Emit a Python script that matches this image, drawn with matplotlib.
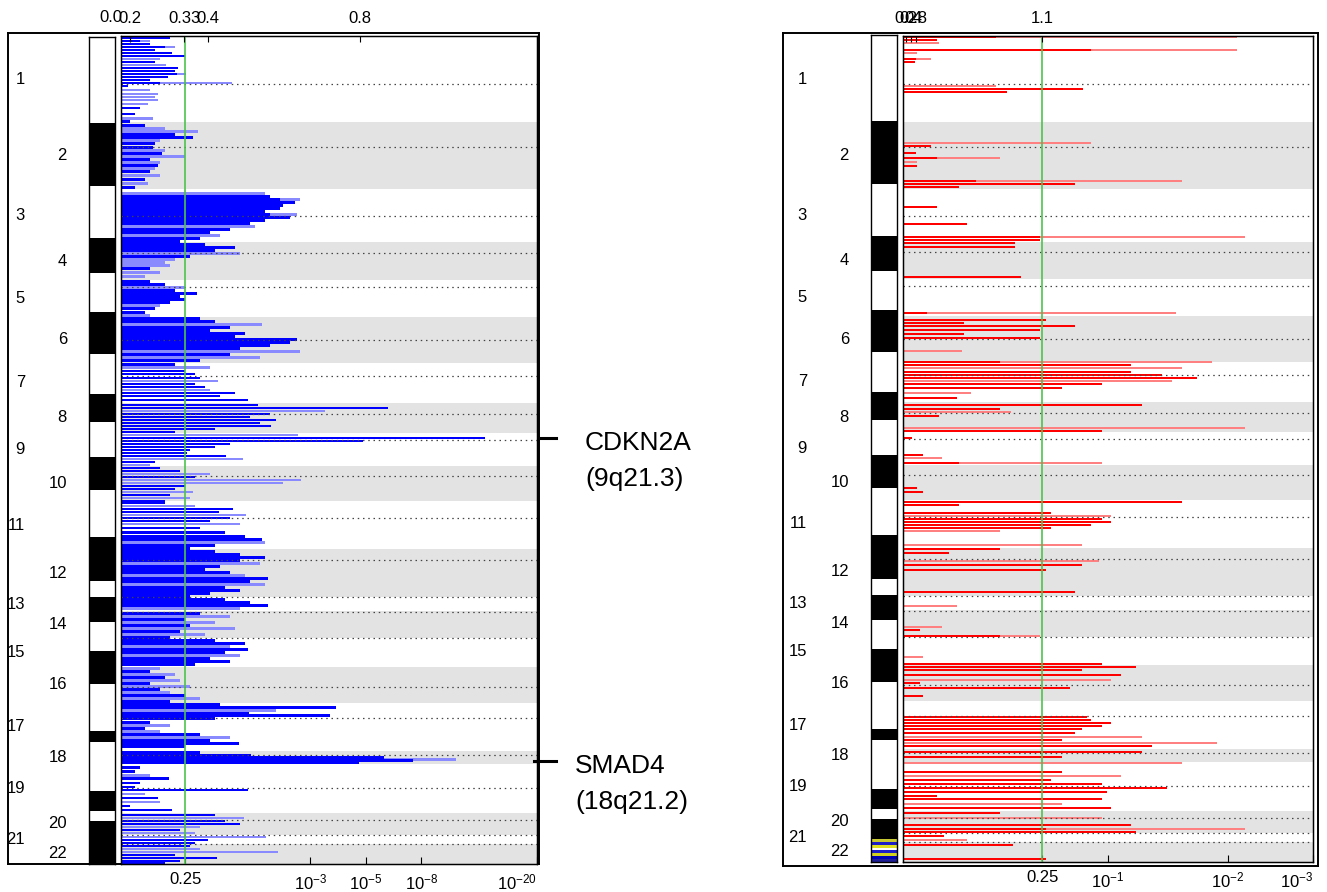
import numpy as np
import matplotlib
matplotlib.use('Agg')
import matplotlib.pyplot as plt
from matplotlib.transforms import blended_transform_factory
from matplotlib.ticker import NullLocator

plt.rcParams['font.family'] = ['Liberation Sans', 'DejaVu Sans']
plt.rcParams['mathtext.fontset'] = 'custom'
plt.rcParams['mathtext.rm'] = 'Liberation Sans'
plt.rcParams['mathtext.it'] = 'Liberation Sans:italic'
plt.rcParams['mathtext.bf'] = 'Liberation Sans:bold'

# genome axis, in marker index units (top = chr1)
chrom_names = [str(i) for i in range(1, 23)]
chrom_sizes = [86, 67, 53, 37, 37, 46, 40, 30, 33, 35, 48, 48, 14, 27, 28, 36, 48, 13, 49, 22, 9, 20]
centromere_pos = [48, 111, 180, 216, 250, 303, 339, 377, 403, 439, 481, 523, 560, 575, 601,
                  649, 680, 717, 750, 782, 797, 806]
ideogram_sizes = [86, 63, 52, 35, 39, 42, 40, 28, 34, 33, 47, 44, 16, 25, 29, 33, 47, 11, 49, 20, 10, 20]
ideogram_extra = 23

q_thresh = 0.25

# deletions: -log10(q) per segment
del_dark_pos = [2, 5, 8, 11, 14, 17, 20, 26, 32, 35, 38, 41, 44, 47, 50, 72, 78, 85,
                89, 98, 101, 107, 111, 117, 123, 129, 135, 143, 151,
                160, 163, 166, 169, 172, 175, 178, 181, 184, 187, 193, 196, 202, 205,
                208, 211, 214, 220, 232,
                245, 248, 254, 257, 260, 263, 266, 272, 276,
                282, 285, 291, 294, 297, 300, 303, 306, 309, 312, 318, 324,
                328, 334, 337, 341, 347, 350, 356, 359, 363,
                368, 371, 377, 380, 383, 386, 389, 392, 395,
                401, 404, 407, 410, 413, 416, 419, 425,
                431, 434, 440, 449, 452, 458, 464,
                466, 472, 475, 481, 484, 491, 495, 499, 502, 508, 511,
                514, 517, 520, 523, 529, 532, 535, 541, 544, 550, 553, 556, 559,
                562, 565, 568,
                576, 582, 588, 594, 600,
                603, 606, 612, 615, 621, 624, 627,
                634, 640, 646, 652, 658, 664,
                667, 670, 676, 678, 681, 685, 691, 697, 703, 706, 709,
                715, 718, 720, 723, 725,
                730, 734, 741, 745, 749, 752, 760, 768, 772,
                777, 783, 786, 792,
                802, 805,
                808, 817, 820, 823, 825]
del_dark_score = [0.43, 0.15, 0.24, 0.38, 0.28, 0.45, 0.60, 0.28, 0.52, 0.49, 0.51, 0.41, 0.24, 0.33, 0.05, 0.15, 0.11, 0.07,
                  0.19, 0.49, 0.69, 0.28, 0.26, 0.35, 0.24, 0.31, 0.24, 0.19, 0.11,
                  1.98, 2.20, 2.58, 2.27, 2.20, 1.87, 1.98, 2.45, 1.87, 1.57, 1.22, 0.92, 0.78, 0.54,
                  0.85, 1.30, 0.99, 0.66, 0.24,
                  0.24, 0.38, 0.49, 0.74, 0.54, 0.60, 0.43, 0.28, 0.19,
                  0.78, 0.99, 1.22, 0.92, 1.48, 1.30, 2.63, 2.45, 1.98, 1.39, 1.22, 0.78,
                  0.49, 0.60, 0.72, 0.78, 0.72, 0.85, 1.30, 1.06, 1.53,
                  1.73, 6.06, 1.98, 1.57, 2.11, 1.77, 2.00, 0.99, 0.49,
                  13.4, 4.88, 1.22, 0.99, 0.66, 0.62, 1.16, 0.28,
                  0.33, 0.54, 0.72, 0.60, 0.49, 0.43, 0.38,
                  0.38, 1.27, 1.05, 1.22, 0.92, 0.78, 1.14, 1.48, 1.81, 0.99, 0.66,
                  0.99, 1.39, 1.87, 1.39, 1.06, 0.85, 1.22, 1.93, 1.57, 1.14, 1.39, 0.92, 0.66,
                  1.14, 1.57, 1.93,
                  0.78, 0.60, 0.66, 0.54, 0.43,
                  0.99, 1.48, 1.53, 1.14, 0.92, 1.22, 0.72,
                  0.24, 0.38, 0.24, 0.33, 0.60, 0.43,
                  1.06, 3.83, 1.55, 3.62, 0.99, 0.24, 0.19, 0.78, 0.92, 1.37, 0.60,
                  0.78, 1.59, 5.86, 7.48, 4.71,
                  0.15, 0.11, 0.42, 0.15, 0.11, 1.53, 0.31, 0.07, 0.45,
                  0.99, 1.14, 1.39, 0.54,
                  0.89, 0.72,
                  0.66, 0.49, 1.02, 0.54, 0.38]
del_light_pos = [5, 11, 23, 29, 38, 47, 54, 58, 61, 64, 68, 82,
                 92, 95, 104, 114, 120, 126, 132, 139, 147,
                 157, 163, 178, 190, 199,
                 217, 223, 226, 229, 236, 240,
                 251, 269, 279,
                 288, 315, 321,
                 331, 344, 353,
                 374,
                 398, 422, 428,
                 437, 443, 446, 455, 461,
                 469, 478, 487, 505,
                 526, 538, 547,
                 571,
                 579, 585, 591, 597,
                 609, 618,
                 631, 637, 643, 649, 655, 661,
                 673, 688, 694, 700,
                 722,
                 738, 756, 764,
                 780, 789, 795,
                 799,
                 811, 814]
del_light_score = [0.24, 0.49, 0.33, 0.39, 0.61, 1.25, 0.24, 0.31, 0.28, 0.31, 0.22, 0.26,
                   0.38, 0.76, 0.33, 0.38, 0.60, 0.33, 0.28, 0.33, 0.22,
                   1.87, 2.71, 2.63, 1.67, 1.06,
                   1.39, 0.49, 0.38, 0.43, 0.33, 0.19,
                   0.60, 0.33, 0.24,
                   1.81, 2.71, 1.77,
                   0.92, 1.03, 0.92,
                   3.45,
                   2.65, 1.44, 0.24,
                   0.92, 2.74, 2.27, 0.69, 0.66,
                   0.72, 1.50, 1.39, 1.87,
                   1.77, 1.48, 1.87,
                   1.39,
                   1.22, 0.99, 1.30, 0.85,
                   1.22, 1.39,
                   0.33, 0.49, 0.54, 0.66, 0.43, 0.78,
                   2.11, 0.43, 0.33, 1.22,
                   10.6,
                   0.24, 0.19, 0.33,
                   1.46, 0.78, 0.72,
                   1.89,
                   0.78, 2.16]

# amplifications: -log10(q) per segment
amp_dark_pos = [1, 4, 14, 23, 26, 53, 56,
                110, 117, 122, 130, 145, 148, 151,
                171, 188, 201, 204, 207,
                211, 241,
                277,
                284, 287, 290, 294, 298, 302, 326,
                329, 336, 339, 342, 348, 352, 362,
                369, 373, 380, 395, 402,
                419, 427,
                452, 456, 466, 469,
                477, 483, 486, 489, 492,
                513, 517, 529, 534, 556,
                594, 600,
                628, 631, 634,
                639, 647, 652, 660,
                681, 684, 687, 690, 693, 697, 704, 710,
                716, 721,
                736, 744, 748, 752, 756, 760, 763, 772,
                777, 789, 793, 796,
                800,
                809, 823]
amp_dark_score = [0.37, 0.12, 0.89, 0.045, 0.04, 0.84, 0.42,
                  0.10, 0.045, 0.12, 0.05, 0.28, 0.79, 0.21,
                  0.12, 0.24, 0.59, 0.59, 0.46,
                  0.46, 0.49,
                  0.085,
                  0.62, 0.23, 0.79, 0.59, 0.23, 0.59, 0.39,
                  1.16, 1.16, 1.40, 1.70, 0.96, 0.71, 0.20,
                  1.24, 0.39, 0.13, 0.96, 0.03,
                  0.07, 0.21,
                  0.05, 0.07, 1.57, 0.21,
                  0.65, 0.96, 1.02, 0.89, 0.65,
                  0.39, 0.17, 0.83, 0.62, 0.79,
                  0.06, 0.39,
                  0.96, 1.20, 0.83,
                  1.09, 0.06, 0.76, 0.07,
                  0.86, 0.89, 1.02, 0.96, 0.83, 0.79, 0.71, 1.32,
                  1.24, 0.71,
                  0.71, 0.65, 0.96, 1.44, 0.99, 0.12, 0.96, 1.02,
                  0.39, 1.16, 0.62, 1.20,
                  0.15,
                  0.45, 0.62]
amp_light_pos = [1, 7, 14, 17, 23, 50,
                 107, 122, 126, 145,
                 201,
                 277,
                 315, 326,
                 332, 345, 357,
                 376, 392,
                 422, 427,
                 480, 495,
                 509, 525,
                 570,
                 591, 600,
                 621,
                 644,
                 701, 707,
                 727,
                 740, 768,
                 782, 793,
                 804]
amp_light_score = [2.09, 0.13, 2.09, 0.05, 0.10, 0.37,
                   0.89, 0.39, 0.05, 1.57,
                   2.18,
                   1.52,
                   0.22, 1.84,
                   1.57, 1.48, 0.26,
                   0.44, 2.18,
                   0.14, 0.96,
                   1.02, 0.39,
                   0.83, 0.94,
                   0.20,
                   0.14, 0.59,
                   0.07,
                   1.02,
                   1.24, 1.89,
                   1.57,
                   1.09, 0.71,
                   0.96, 2.18,
                   0.24]

# axis ticks (q-values at the bottom, G-scores on top)
del_q_ticks = [0.25, 1e-3, 1e-5, 1e-8, 1e-20]
del_q_labels = ['0.25', '$10^{-3}$', '$10^{-5}$', '$10^{-8}$', '$10^{-20}$']
amp_q_ticks = [0.25, 1e-1, 1e-2, 1e-3]
amp_q_labels = ['0.25', '$10^{-1}$', '$10^{-2}$', '$10^{-3}$']
del_g_pos = [0.068, 0.586, 0.891, 4.74]
del_g_labels = ['0.2', '0.33', '0.4', '0.8']
amp_g_pos = [0.010, 0.028, 0.045, 0.602]
amp_g_labels = ['0.2', '0.4', '0.8', '1.1']

genes = ['CDKN2A', 'SMAD4']
gene_bands = ['(9q21.3)', '(18q21.2)']
gene_pos = [401, 723]

W, H = 1327, 892
fig = plt.figure(figsize=(W / 100, H / 100), dpi=100)


def rect(l, t, r, b):
    return [l / W, 1 - b / H, (r - l) / W, (b - t) / H]


total = sum(chrom_sizes)
starts = np.concatenate([[0], np.cumsum(chrom_sizes)[:-1]])
mids = starts + np.array(chrom_sizes) / 2.0


def panel(outer, ideo, main, dpos, dscore, lpos, lscore, dcol, lcol, xmax,
          qticks, qlabels, gpos, glabels, label_x, stripes=None):
    ax_out = fig.add_axes(rect(*outer))
    ax_out.set_xticks([])
    ax_out.set_yticks([])
    for s in ax_out.spines.values():
        s.set_linewidth(1.4)

    ax_id = fig.add_axes(rect(*ideo))
    y0 = 0
    for i, h in enumerate(ideogram_sizes):
        ax_id.barh(y0, 1, height=h, align='edge', color='white' if i % 2 == 0 else 'black', lw=0)
        y0 += h
    if stripes is None:
        ax_id.barh(y0, 1, height=ideogram_extra, align='edge', color='black', lw=0)
    else:
        sh = ideogram_extra / len(stripes)
        for j, c in enumerate(stripes):
            ax_id.barh(y0 + j * sh, 1, height=sh, align='edge', color=c, lw=0)
    ax_id.set_xlim(0, 1)
    ax_id.set_ylim(total, 0)
    ax_id.set_xticks([])
    ax_id.set_yticks([])
    for s in ax_id.spines.values():
        s.set_linewidth(1.0)

    ax = fig.add_axes(rect(*main))
    ax.set_xscale('function', functions=(np.log1p, np.expm1))
    ax.set_xlim(0, xmax)
    ax.set_ylim(total, 0)
    for i in range(1, len(chrom_sizes), 2):
        ax.axhspan(starts[i], starts[i] + chrom_sizes[i], color='#e3e3e3', lw=0, zorder=0)
    ax.barh(lpos, lscore, height=2.6, color=lcol, lw=0, zorder=1)
    ax.barh(dpos, dscore, height=2.6, color=dcol, lw=0, zorder=2)
    ax.hlines(centromere_pos, 0, xmax, colors='#444444', linestyles=(0, (1.2, 3.0)),
              lw=0.9, zorder=3)
    ax.axvline(-np.log10(q_thresh), color='#4cc34c', lw=1.2, zorder=4)

    ax.set_xticks(-np.log10(qticks), qlabels)
    ax.xaxis.set_minor_locator(NullLocator())
    ax.tick_params(axis='x', direction='in', length=5, pad=6, labelsize=12)
    ax.set_yticks([])
    for s in ax.spines.values():
        s.set_linewidth(1.0)

    top = ax.twiny()
    top.set_xscale('function', functions=(np.log1p, np.expm1))
    top.set_xlim(0, xmax)
    top.set_xticks(gpos, glabels)
    top.xaxis.set_minor_locator(NullLocator())
    top.tick_params(axis='x', direction='in', length=4, pad=7, labelsize=12)

    tr = blended_transform_factory(fig.transFigure, ax.transData)
    for i, name in enumerate(chrom_names):
        x = label_x[0] if i % 2 == 0 else label_x[1]
        ax.text(x / W, mids[i], name, transform=tr, ha='right', va='center', fontsize=12)
    return ax, tr


ax_del, tr_del = panel((8, 33, 539, 864), (89, 37, 115, 864), (121, 36, 537, 864),
                       del_dark_pos, del_dark_score, del_light_pos, del_light_score,
                       '#0000ff', '#8a8aff', 20,
                       del_q_ticks, del_q_labels, del_g_pos, del_g_labels, (25, 67))
ax_del.text(-0.024, 1 + 18 / 828, '0.0', transform=ax_del.transAxes,
            ha='center', va='center', fontsize=12)
ax_del.get_xticklabels()[-1].set_horizontalalignment('right')
ax_del.get_xticklabels()[-1].set_x(ax_del.get_xticks()[-1])

ax_amp, tr_amp = panel((783, 33, 1318, 866), (871, 35, 897, 862), (903, 36, 1313, 862),
                       amp_dark_pos, amp_dark_score, amp_light_pos, amp_light_score,
                       '#ff0000', '#ff8080', 3,
                       amp_q_ticks, amp_q_labels, amp_g_pos, amp_g_labels, (807, 849),
                       stripes=['#c8c832', '#1e1ec8', '#e0e020', '#ffffff',
                                '#1e1ec8', '#d2d21e', '#0000b4', '#1e1e96'])
ax_amp.get_xticklabels()[-1].set_horizontalalignment('right')

# gene markers beside the deletion panel
dash_x = [(541, 556), (534, 556)]
text_x = [585, 575]
for g, band, y, dx, tx in zip(genes, gene_bands, gene_pos, dash_x, text_x):
    ax_del.plot([dx[0] / W, dx[1] / W], [y, y], transform=tr_del, color='black',
                lw=2.2, clip_on=False)
    ax_del.text(tx / W, y + 5, g, transform=tr_del, ha='left', va='center', fontsize=19)
    ax_del.text(tx / W, y + 41, band, transform=tr_del, ha='left', va='center', fontsize=19)

fig.savefig('out.png', dpi=100)
